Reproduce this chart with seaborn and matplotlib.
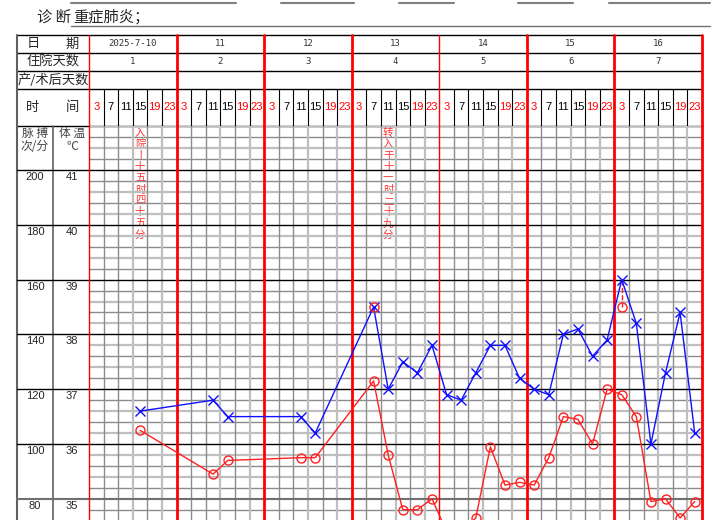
import matplotlib
matplotlib.use("Agg")
import matplotlib.pyplot as plt
import seaborn as sns

sns.set_style("white")
plt.rcParams['font.family'] = ['Noto Sans CJK SC', 'DejaVu Sans']

# ==============================
# DATA
# ==============================
dates = ["2025-7-10", "11", "12", "13", "14", "15", "16"]
stay_days = ["1", "2", "3", "4", "5", "6", "7"]
hours = ["3", "7", "11", "15", "19", "23"]
hour_colors = ["red", "black", "black", "black", "red", "red"]

# slot index = day * 6 + hour position
temp_slots = [3, 8, 9, 14, 15, 19, 20, 21, 22, 23, 24, 25, 26, 27, 28, 29, 30, 31,
              32, 33, 34, 35, 36, 37, 38, 39, 40, 41]
temp_vals = [36.6, 36.8, 36.5, 36.5, 36.2, 38.5, 37.0, 37.5, 37.3, 37.8, 36.9, 36.8,
             37.3, 37.8, 37.8, 37.2, 37.0, 36.9, 38.0, 38.1, 37.6, 37.9, 39.0, 38.2,
             36.0, 37.3, 38.4, 36.2]
pulse_slots = [3, 8, 9, 14, 15, 19, 20, 21, 22, 23, 24, 25, 26, 27, 28, 29, 30, 31,
               32, 33, 34, 35, 36, 37, 38, 39, 40, 41]
pulse_vals = [105, 89, 94, 95, 95, 123, 96, 76, 76, 80, 68, 68, 73, 99, 85, 86, 85, 95,
              110, 109, 100, 120, 118, 110, 79, 80, 73, 79]
# physical cooling re-measure
cool_slots = [19, 36]
cool_before = [38.5, 39.0]
cool_after = [38.5, 38.5]

notes = {3: "入院丨十五时四十五分", 20: "转入于十一时二十九分"}
pulse_labels = ["200", "180", "160", "140", "120", "100", "80"]
temp_labels = ["41", "40", "39", "38", "37", "36", "35"]

# ==============================
# LAYOUT (pixels)
# ==============================
W, H = 728, 520
GX0, GX1, GY0 = 89, 702, 126
n_slots = 42
slot_w = (GX1 - GX0) / n_slots
day_w = slot_w * 6
deg_px = 54.8
T_TOP = 41 + (170 - GY0) / deg_px
T_BOT = 41 - (H - 170) / deg_px


def ty(t):
    return 170 + (41 - t) * deg_px


fig = plt.figure(figsize=(W / 100, H / 100), dpi=100)

# background sheet (header + left labels)
bg = fig.add_axes([0, 0, 1, 1])
bg.set_xlim(0, W)
bg.set_ylim(H, 0)
bg.axis("off")

for a, b in [(71, 236), (281, 354), (399, 454), (518, 573), (609, 710)]:
    bg.plot([a, b], [3, 3], color="#808080", lw=1.5)
bg.text(54, 17, "诊 断", fontsize=11, ha="center", va="center")
bg.text(73, 17, "重症肺炎；", fontsize=11, ha="left", va="center")
bg.plot([71, 710], [26, 26], color="#707070", lw=1)

for y in [35, 53, 71, 89, 126]:
    bg.plot([17, GX1], [y, y], color="black", lw=1)
bg.plot([17, 17], [35, H], color="#606060", lw=1.5)
bg.plot([53, 53], [126, H], color="#606060", lw=1.2)

# time row slot separators
for k in range(n_slots):
    if k % 6:
        x = GX0 + k * slot_w
        bg.plot([x, x], [89, 126], color="black", lw=0.8)
for d in range(8):
    x = GX0 + d * day_w
    bg.plot([x, x], [35, 126], color="red", lw=1 if d in (0, 4) else 2)

bg.text(33, 44, "日", fontsize=9.5, ha="center", va="center")
bg.text(72, 44, "期", fontsize=9.5, ha="center", va="center")
bg.text(53, 62, "住院天数", fontsize=9.5, ha="center", va="center")
bg.text(53, 80, "产/术后天数", fontsize=9.5, ha="center", va="center")
bg.text(33, 107, "时", fontsize=9.5, ha="center", va="center")
bg.text(72, 107, "间", fontsize=9.5, ha="center", va="center")

for d in range(7):
    xc = GX0 + (d + 0.5) * day_w
    bg.text(xc, 44, dates[d], fontsize=6.5, ha="center", va="center",
            family="DejaVu Sans Mono", color="#333333")
    bg.text(xc, 62, stay_days[d], fontsize=6.5, ha="center", va="center",
            family="DejaVu Sans Mono", color="#333333")
    for h in range(6):
        x = GX0 + (d * 6 + h + 0.5) * slot_w
        bg.text(x, 107, hours[h], fontsize=8, ha="center", va="center",
                family="Liberation Sans", color=hour_colors[h])

bg.text(35, 133, "脉 搏", fontsize=8.5, ha="center", va="center", color="#444444")
bg.text(35, 147, "次/分", fontsize=8.5, ha="center", va="center", color="#444444")
bg.text(72, 133, "体 温", fontsize=8.5, ha="center", va="center", color="#444444")
bg.text(72, 147, "℃", fontsize=8.5, ha="center", va="center", color="#444444")

for i, (pl, tl) in enumerate(zip(pulse_labels, temp_labels)):
    y = ty(41 - i)
    bg.plot([17, GX0], [y, y], color="black" if i < 6 else "#707070",
            lw=1 if i < 6 else 1.5)
    bg.text(35, y + 2, pl, fontsize=8, ha="center", va="top", family="Liberation Sans")
    bg.text(72, y + 2, tl, fontsize=8, ha="center", va="top", family="Liberation Sans")

# red vertical notes
for slot, txt in notes.items():
    x = GX0 + (slot + 0.5) * slot_w
    for j, ch in enumerate(txt):
        bg.text(x, 133 + j * 11.3, ch, fontsize=7.5, ha="center", va="center",
                color="#ff3030")

# ==============================
# GRID + DATA
# ==============================
ax = fig.add_axes([GX0 / W, 0, (GX1 - GX0) / W, (H - GY0) / H])
ax.patch.set_alpha(0)
ax.set_xlim(0, n_slots)
ax.set_ylim(T_BOT, T_TOP)

for k in range(1, int(round((T_TOP - 34.6) / 0.2)) + 1):
    t = 34.6 + k * 0.2
    if abs(t - round(t)) < 0.01:
        continue
    ax.axhline(t, color="#8c8c8c" if k % 2 else "#bfbfbf", lw=1 if k % 2 else 1.6, zorder=1)
for k in range(n_slots):
    if k % 6:
        ax.axvline(k, color="#8c8c8c" if k % 6 in (1, 2, 4) else "#bfbfbf",
                   lw=1 if k % 6 in (1, 2, 4) else 1.6, zorder=1)
for t in range(36, 42):
    ax.axhline(t, color="black", lw=1, zorder=2)
ax.axhline(35, color="#707070", lw=1.5, zorder=2)
for d in range(8):
    ax.axvline(d * 6, color="red", lw=1 if d in (0, 4) else 2, zorder=3, clip_on=False)

ax2 = ax.twinx()
ax2.set_ylim(20 * T_BOT - 620, 20 * T_TOP - 620)

x_t = [s + 0.5 for s in temp_slots]
x_p = [s + 0.5 for s in pulse_slots]
sns.lineplot(x=x_p, y=pulse_vals, ax=ax2, color="#ff2020", lw=1, marker="o",
             markersize=6.5, markerfacecolor="none", markeredgecolor="#ff2020",
             markeredgewidth=1, zorder=4)
sns.lineplot(x=x_t, y=temp_vals, ax=ax, color="#1010ff", lw=1, marker="x",
             markersize=7, markeredgewidth=1, markeredgecolor="#1010ff", zorder=5)
for s, b, a in zip(cool_slots, cool_before, cool_after):
    ax.plot([s + 0.5, s + 0.5], [b, a], color="#ff2020", lw=1, ls="--", zorder=4)
    ax.plot([s + 0.5], [a], marker="o", ms=6.5, mfc="none", mec="#ff2020", mew=1, zorder=6)

for a_ in (ax, ax2):
    a_.set_xticks([])
    a_.set_yticks([])
    a_.set_xlabel("")
    a_.set_ylabel("")
    for sp in a_.spines.values():
        sp.set_visible(False)

fig.savefig("out.png", dpi=100)
